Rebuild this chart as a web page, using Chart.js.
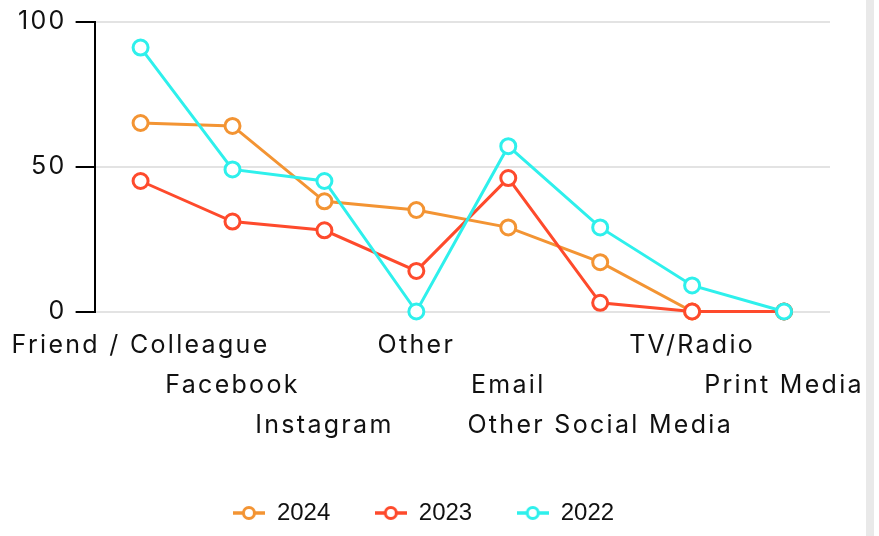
<!DOCTYPE html>
<html>
<head>
<meta charset="utf-8">
<script src="https://cdn.jsdelivr.net/npm/chart.js@4/dist/chart.umd.min.js"></script>
<style>
  html, body { margin: 0; padding: 0; background: #fff; }
  #wrap { position: relative; width: 879px; height: 536px; }
  #strip { position: absolute; left: 866px; top: 0; width: 8px; height: 536px; background: #e9e9e9; }
</style>
</head>
<body>
<div id="wrap">
  <canvas id="c"></canvas>
  <div id="strip"></div>
</div>
<script>
const categories = ['Friend / Colleague', 'Facebook', 'Instagram', 'Other', 'Email', 'Other Social Media', 'TV/Radio', 'Print Media'];
const labelRow = [0, 1, 2, 0, 1, 2, 0, 1];
const seriesNames = ['2024', '2023', '2022'];
const values2024 = [65, 64, 38, 35, 29, 17, 0, 0];
const values2023 = [45, 31, 28, 14, 46, 3, 0, 0];
const values2022 = [91, 49, 45, 0, 57, 29, 9, 0];
const yTicks = [0, 50, 100];
const colors = ['#f39433', '#fe4a2c', '#2ef0ec'];

const FONT = 'Inter, "Open Sans", sans-serif';
const LEGEND_FONT = '"Liberation Sans", Arial, sans-serif';
const SPACING = '2.3px';
const LEGEND_SHIFT = 4;

// staggered multi-line labels
const labels = categories.map((c, i) => {
  const arr = [];
  for (let k = 0; k < labelRow[i]; k++) arr.push('');
  arr.push(c);
  return arr;
});

function legendIcon(color) {
  const cv = document.createElement('canvas');
  cv.width = 32; cv.height = 16;
  const g = cv.getContext('2d');
  g.strokeStyle = color;
  g.lineWidth = 3.5;
  g.beginPath(); g.moveTo(0, 8); g.lineTo(32, 8); g.stroke();
  g.beginPath(); g.arc(16, 8, 5.5, 0, Math.PI * 2);
  g.fillStyle = '#fff'; g.fill();
  g.lineWidth = 3; g.stroke();
  return cv;
}

const spacingPlugin = {
  id: 'spacing',
  afterInit(chart) {
    const lg = chart.legend;
    if (lg && !lg._wrapped) {
      lg._wrapped = true;
      const of = lg.fit, od = lg.draw;
      lg.fit = function () { const c = chart.ctx; c.letterSpacing = '0px'; const r = of.apply(this, arguments); c.letterSpacing = SPACING; return r; };
      lg.draw = function () { const c = chart.ctx; c.letterSpacing = '0px'; const r = od.apply(this, arguments); c.letterSpacing = SPACING; return r; };
    }
  },
  beforeLayout(chart) { chart.ctx.letterSpacing = SPACING; },
  afterLayout(chart) {
    const lg = chart.legend;
    if (lg) { lg.left += LEGEND_SHIFT; lg.right += LEGEND_SHIFT; }
  },
  beforeDraw(chart) { chart.ctx.letterSpacing = SPACING; }
};

const seriesValues = [values2024, values2023, values2022];
const datasets = seriesNames.map((n, i) => ({
  label: n,
  data: seriesValues[i],
  borderColor: colors[i],
  backgroundColor: '#ffffff',
  pointBackgroundColor: '#ffffff',
  pointBorderColor: colors[i],
  pointRadius: 7.5,
  pointBorderWidth: 3,
  borderWidth: 3,
  tension: 0,
  clip: false,
  order: 3 - i
}));

new Chart(document.getElementById('c'), {
  type: 'line',
  data: { labels: labels, datasets: datasets },
  plugins: [spacingPlugin],
  options: {
    responsive: true,
    maintainAspectRatio: false,
    animation: false,
    layout: { padding: { left: 9, right: 49, top: 2, bottom: 1 } },
    scales: {
      x: {
        offset: true,
        grid: { display: true, drawOnChartArea: false, color: 'rgba(0,0,0,0)', drawTicks: true, tickLength: 10 },
        border: { display: false },
        afterFit: (axis) => { axis.height += 7; },
        ticks: {
          autoSkip: false, maxRotation: 0, minRotation: 0,
          color: '#111', padding: 4,
          font: { family: FONT, size: 25, lineHeight: '40px' }
        }
      },
      y: {
        min: 0, max: 100,
        afterBuildTicks: (axis) => { axis.ticks = yTicks.map(v => ({ value: v })); },
        grid: { color: '#e3e3e3', lineWidth: 2, tickColor: '#000', tickLength: 19, tickWidth: 2 },
        border: { color: '#000', width: 2 },
        ticks: { color: '#111', padding: 9, font: { family: FONT, size: 25, lineHeight: 1 } }
      }
    },
    plugins: {
      tooltip: { enabled: false },
      legend: {
        position: 'bottom',
        labels: {
          usePointStyle: true,
          pointStyleWidth: 32,
          padding: 44.5,
          color: '#111',
          font: { family: LEGEND_FONT, size: 24 },
          generateLabels: (chart) => chart.data.datasets.map((d, i) => ({
            text: d.label,
            pointStyle: legendIcon(d.borderColor),
            fillStyle: '#fff',
            strokeStyle: d.borderColor,
            lineWidth: 0,
            fontColor: '#111',
            hidden: false,
            datasetIndex: i
          }))
        }
      }
    }
  }
});
</script>
</body>
</html>
